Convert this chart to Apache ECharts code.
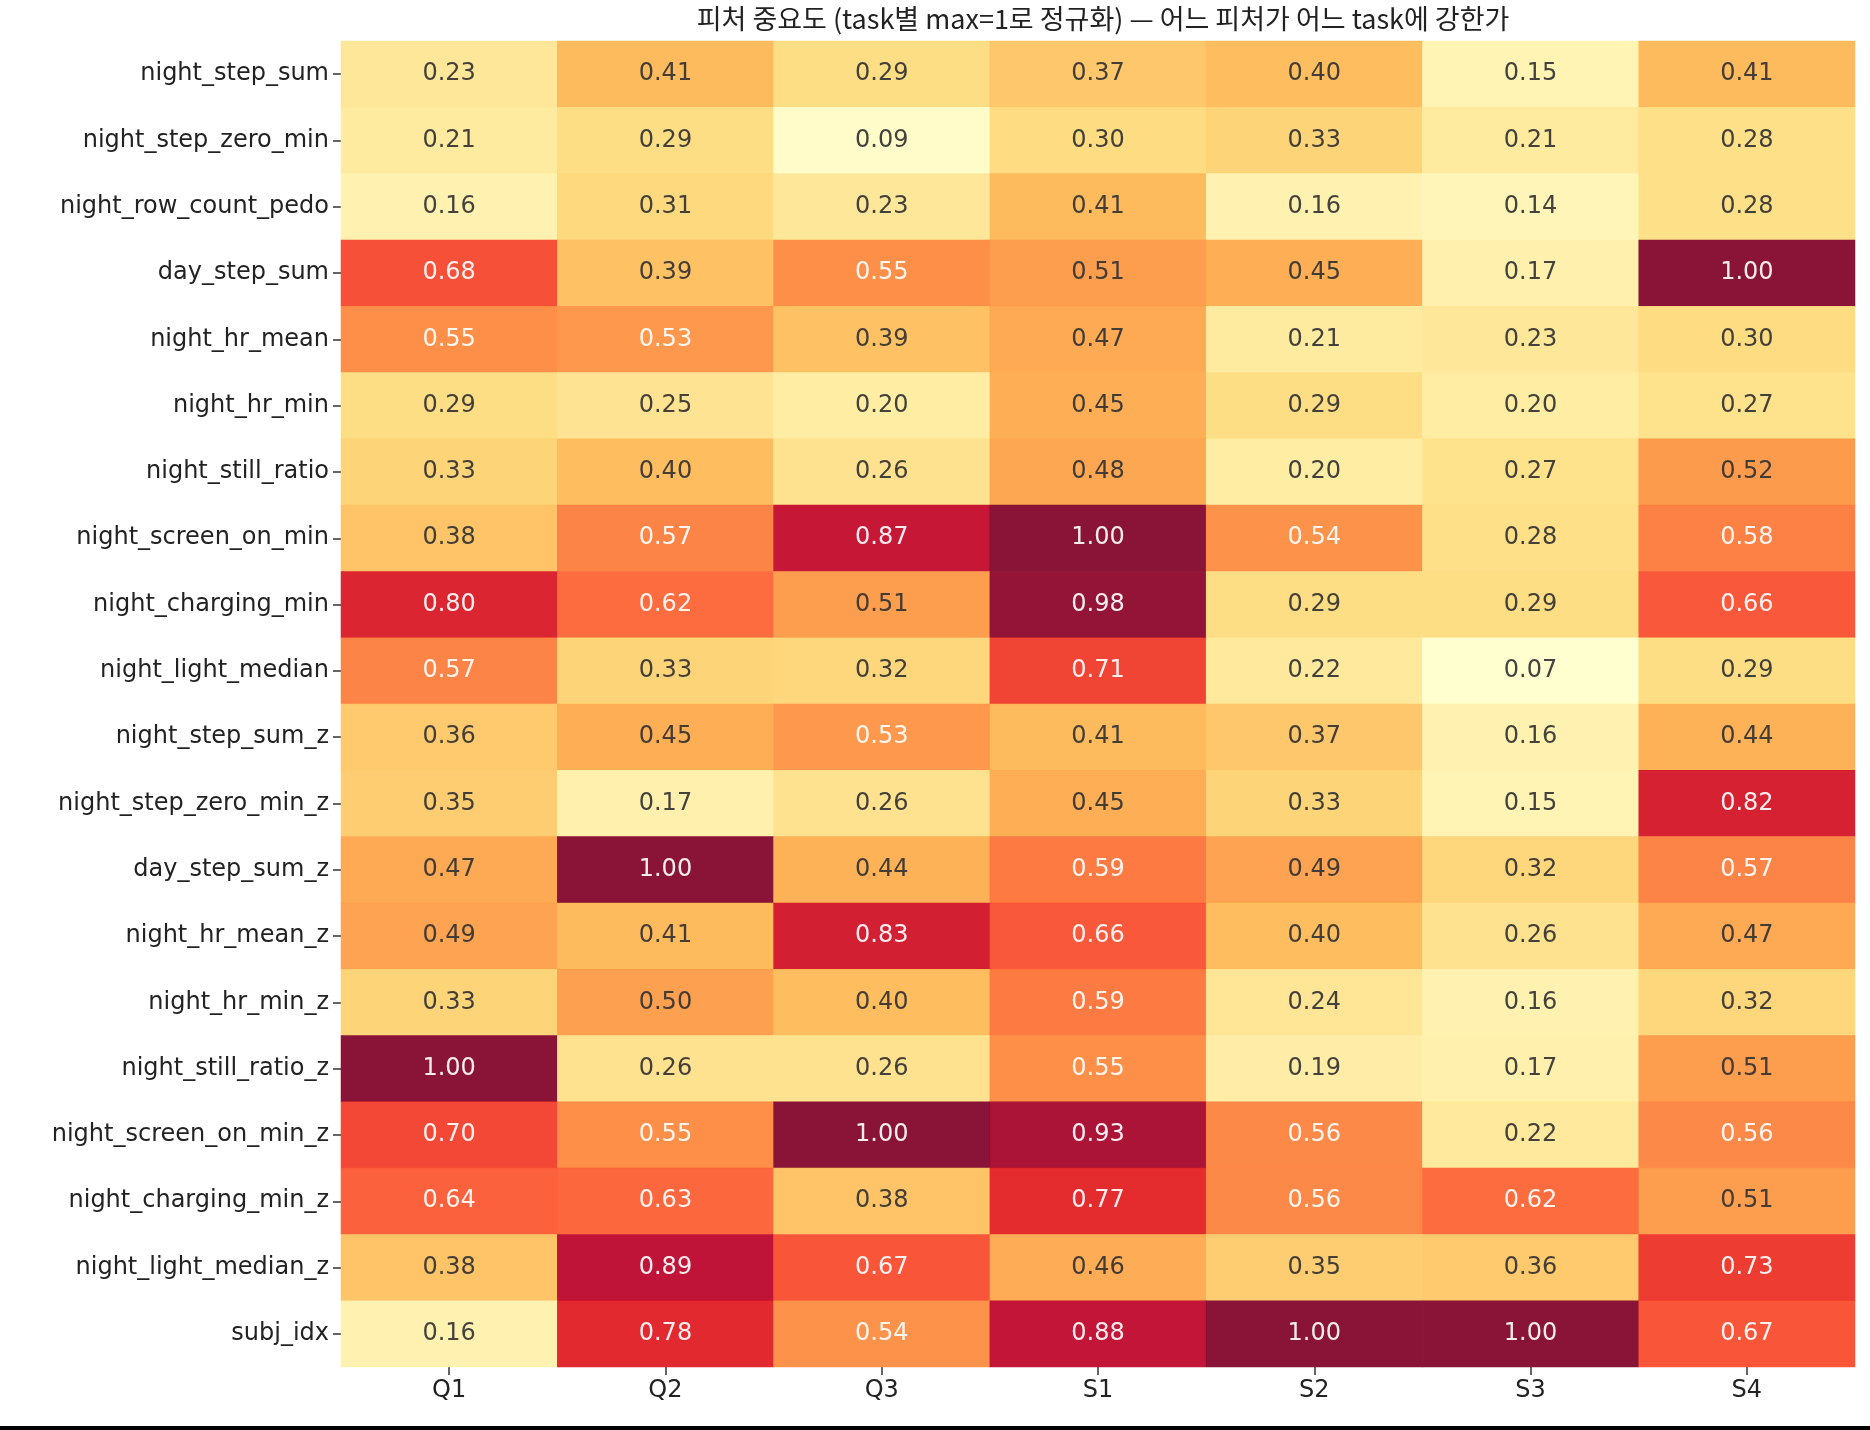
<!DOCTYPE html>
<html><head><meta charset="utf-8">
<script src="https://cdn.jsdelivr.net/npm/echarts@6/dist/echarts.min.js"></script>
<style>html,body{margin:0;background:#fff}#c{width:1870px;height:1430px}</style>
</head><body><div id="c"></div>
<script>
const tasks = ['Q1','Q2','Q3','S1','S2','S3','S4'];
const features = ['night_step_sum','night_step_zero_min','night_row_count_pedo','day_step_sum','night_hr_mean','night_hr_min','night_still_ratio','night_screen_on_min','night_charging_min','night_light_median','night_step_sum_z','night_step_zero_min_z','day_step_sum_z','night_hr_mean_z','night_hr_min_z','night_still_ratio_z','night_screen_on_min_z','night_charging_min_z','night_light_median_z','subj_idx'];
const values = [
[0.23,0.41,0.29,0.37,0.40,0.15,0.41],
[0.21,0.29,0.09,0.30,0.33,0.21,0.28],
[0.16,0.31,0.23,0.41,0.16,0.14,0.28],
[0.68,0.39,0.55,0.51,0.45,0.17,1.00],
[0.55,0.53,0.39,0.47,0.21,0.23,0.30],
[0.29,0.25,0.20,0.45,0.29,0.20,0.27],
[0.33,0.40,0.26,0.48,0.20,0.27,0.52],
[0.38,0.57,0.87,1.00,0.54,0.28,0.58],
[0.80,0.62,0.51,0.98,0.29,0.29,0.66],
[0.57,0.33,0.32,0.71,0.22,0.07,0.29],
[0.36,0.45,0.53,0.41,0.37,0.16,0.44],
[0.35,0.17,0.26,0.45,0.33,0.15,0.82],
[0.47,1.00,0.44,0.59,0.49,0.32,0.57],
[0.49,0.41,0.83,0.66,0.40,0.26,0.47],
[0.33,0.50,0.40,0.59,0.24,0.16,0.32],
[1.00,0.26,0.26,0.55,0.19,0.17,0.51],
[0.70,0.55,1.00,0.93,0.56,0.22,0.56],
[0.64,0.63,0.38,0.77,0.56,0.62,0.51],
[0.38,0.89,0.67,0.46,0.35,0.36,0.73],
[0.16,0.78,0.54,0.88,1.00,1.00,0.67]];
const data = [];
values.forEach((row,i)=>row.forEach((v,j)=>data.push({value:[j,i,v],label:{color:v>=0.53?'#ffffff':'#333333'}})));
const ch = echarts.init(document.getElementById('c'));
ch.setOption({
  animation:false,
  title:{text:'피처 중요도 (task별 max=1로 정규화) — 어느 피처가 어느 task에 강한가',left:1098,top:0,textAlign:'center',
    textStyle:{fontFamily:'Noto Sans CJK KR',fontSize:27,fontWeight:'normal',color:'#222'}},
  grid:{left:341,right:15,top:41,bottom:63},
  xAxis:{type:'category',data:tasks,axisLine:{show:false},axisTick:{show:true,length:8,alignWithLabel:true,lineStyle:{color:'#333',width:1.5}},
    axisLabel:{fontFamily:'DejaVu Sans',fontSize:24,color:'#222',margin:12},splitLine:{show:false}},
  yAxis:{type:'category',data:features,inverse:true,axisLine:{show:false},axisTick:{show:true,length:8,alignWithLabel:true,lineStyle:{color:'#333',width:1.5}},
    axisLabel:{fontFamily:'DejaVu Sans',fontSize:24,color:'#222',margin:12}},
  visualMap:{show:false,min:0.07,max:1.0,dimension:2,
    inRange:{color:['#ffffcc','#ffeda0','#fed976','#feb24c','#fd8d3c','#fc4e2a','#e31a1c','#bd0026','#800026']}},
  series:[{type:'heatmap',data:data,itemStyle:{opacity:0.92},
    label:{show:true,fontFamily:'DejaVu Sans',fontSize:24,formatter:p=>p.value[2].toFixed(2)}}],
  graphic:[{type:'rect',shape:{x:0,y:1426,width:1870,height:4},style:{fill:'#000'}}]
});
</script></body></html>
